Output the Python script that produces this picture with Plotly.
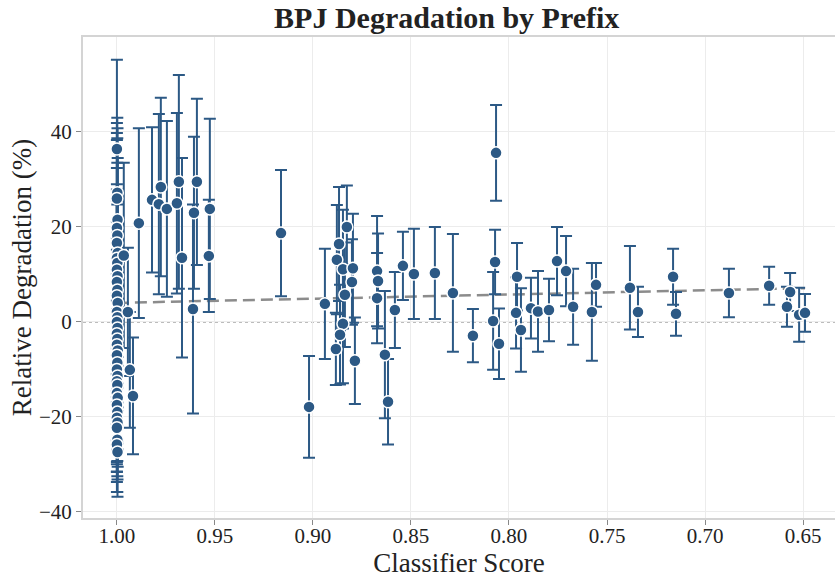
import plotly.graph_objects as go

# ---- data ----
# cluster of prefixes at classifier score ~1.00
cluster_x = [1.0, 0.9998, 1.0, 0.9997, 1.0, 0.9998, 1.0, 0.9996, 1.0, 0.9998,
             1.0, 0.9997, 1.0, 0.9998, 1.0, 0.9996, 1.0, 0.9998, 1.0, 0.9997,
             1.0, 0.9998, 1.0, 0.9996, 1.0, 0.9998, 1.0, 0.9997, 1.0, 0.9998,
             1.0, 0.9996, 1.0, 0.9998, 1.0, 0.9997, 1.0, 0.9998, 1.0, 0.9997]
cluster_y = [36.4, 27.2, 26.0, 21.5, 19.8, 18.2, 16.6, 14.5, 13.4, 12.4,
             11.0, 9.6, 8.4, 6.7, 5.5, 4.0, 2.1, 1.0, 0.0, -1.3,
             -2.5, -3.6, -4.8, -6.0, -7.0, -8.6, -10.0, -11.4, -12.5, -13.3,
             -15.0, -16.0, -17.5, -19.0, -20.2, -21.2, -22.3, -24.8, -25.8, -27.4]
cluster_err = [18.8, 15.8, 15.9, 19.3, 20.0, 20.5, 21.7, 20.0, 19.0, 21.1,
               18.0, 17.0, 19.5, 18.0, 20.0, 17.0, 19.0, 18.0, 20.0, 17.5,
               19.0, 18.0, 20.0, 19.0, 18.0, 17.0, 16.0, 15.5, 17.0, 16.0,
               15.0, 14.5, 14.0, 13.5, 11.4, 12.0, 11.4, 11.0, 10.0, 9.4]

# remaining prefixes
other_x = [0.9965, 0.9944, 0.9934, 0.9918,
           0.9888, 0.9821, 0.9776, 0.9786, 0.9745, 0.9694, 0.9684, 0.9668,
           0.9607, 0.9592, 0.9612, 0.9526, 0.9531,
           0.9163, 0.9020, 0.8939, 0.8883, 0.8867, 0.8878, 0.8847, 0.8827,
           0.8837, 0.8847, 0.8862, 0.8796, 0.8801, 0.8786, 0.8673, 0.8668,
           0.8673, 0.8633, 0.8617, 0.8582, 0.8541, 0.8485, 0.8378, 0.8286,
           0.8184, 0.8066, 0.8071, 0.8081, 0.8051, 0.7959, 0.7964, 0.7939,
           0.7888, 0.7852, 0.7796, 0.7755, 0.7709, 0.7673, 0.7577, 0.7556,
           0.7383, 0.7342, 0.7163, 0.7148, 0.6878, 0.6673, 0.6566, 0.6582,
           0.6520, 0.6490]
other_y = [14.0, 2.1, -10.1, -15.6,
           20.8, 25.7, 28.4, 24.8, 23.8, 25.0, 29.5, 13.5,
           23.0, 29.5, 2.7, 23.8, 13.9,
           18.7, -17.9, 3.8, -5.7, 16.4, 13.1, 11.1, 20.0,
           5.7, -0.4, -2.7, 11.3, 8.4, -8.2, 10.7, 8.6,
           5.0, -6.9, -16.8, 2.5, 11.8, 10.1, 10.3, 6.1,
           -2.9, 35.6, 12.6, 0.2, -4.6, 9.5, 1.9, -1.7,
           2.9, 2.2, 2.5, 12.8, 10.7, 3.2, 2.1, 7.8,
           7.2, 2.1, 9.5, 1.7, 6.1, 7.6, 6.3, 3.2,
           1.5, 1.9]
other_err = [19.5, 13.5, 12.2, 12.3,
             20.0, 15.3, 18.8, 19.0, 18.5, 19.0, 22.5, 21.0,
             16.0, 17.5, 22.0, 19.0, 11.8,
             13.3, 10.7, 11.6, 7.6, 12.0, 11.5, 12.5, 8.7,
             11.0, 12.5, 10.5, 11.5, 9.0, 9.1, 11.6, 10.0,
             9.5, 13.4, 9.0, 8.0, 7.2, 9.5, 9.7, 12.4,
             5.6, 10.1, 6.8, 10.3, 7.4, 7.1, 7.5, 8.8,
             6.4, 8.5, 6.6, 7.2, 7.4, 8.0, 10.3, 4.6,
             8.8, 5.3, 5.9, 4.6, 5.1, 4.0, 4.0, 4.2,
             5.7, 4.0]

# linear trend endpoints
trend_x = [1.0, 0.649]
trend_y = [4.0, 7.1]

x_ticks = [1.00, 0.95, 0.90, 0.85, 0.80, 0.75, 0.70, 0.65]
x_tick_text = ["1.00", "0.95", "0.90", "0.85", "0.80", "0.75", "0.70", "0.65"]
y_ticks = [-40, -20, 0, 20, 40]

color = "#2c5985"
font = "Liberation Serif, Times New Roman, serif"

fig = go.Figure()

fig.add_hline(y=0, line=dict(color="#555555", width=1, dash="dot"), layer="below")

fig.add_trace(go.Scatter(
    x=trend_x, y=trend_y, mode="lines",
    line=dict(color="#8c8c8c", width=2.5, dash="12px,6px"),
    showlegend=False, hoverinfo="skip"))

all_x = cluster_x + other_x
all_y = cluster_y + other_y
all_err = cluster_err + other_err

fig.add_trace(go.Scatter(
    x=all_x, y=all_y, mode="markers",
    marker=dict(color=color, size=12, line=dict(color="white", width=1.5)),
    error_y=dict(type="data", array=all_err, visible=True,
                 color=color, thickness=2, width=6),
    showlegend=False))

fig.update_layout(
    width=835, height=579,
    margin=dict(l=83, r=0, t=37, b=61),
    paper_bgcolor="white", plot_bgcolor="white",
    font=dict(family=font, size=21, color="#222222"),
    title=dict(text="<b>BPJ Degradation by Prefix</b>", x=0.535, xanchor="center",
               y=0.988, yanchor="top",
               font=dict(family=font, size=30, color="#222222")),
)

fig.update_xaxes(
    range=[1.0173, 0.6337], tickvals=x_ticks, ticktext=x_tick_text,
    title=dict(text="Classifier Score", font=dict(size=27), standoff=0),
    showgrid=True, gridcolor="#ececec", gridwidth=1,
    showline=True, linecolor="#d4d4d4", linewidth=2, mirror=True,
    ticks="outside", ticklen=5, tickcolor="#888888",
    ticklabelstandoff=-7,
    zeroline=False, automargin=False)

fig.update_yaxes(
    range=[-41.3, 60], tickvals=y_ticks,
    title=dict(text="Relative Degradation (%)", font=dict(size=27), standoff=0),
    showgrid=True, gridcolor="#ececec", gridwidth=1,
    showline=True, linecolor="#d4d4d4", linewidth=2, mirror=False,
    ticks="outside", ticklen=5, tickcolor="#888888",
    zeroline=False, automargin=False)

fig.write_html("out.html",
               config={"displayModeBar": False},
               post_script="document.body.style.margin='0';document.body.style.overflow='hidden';")
